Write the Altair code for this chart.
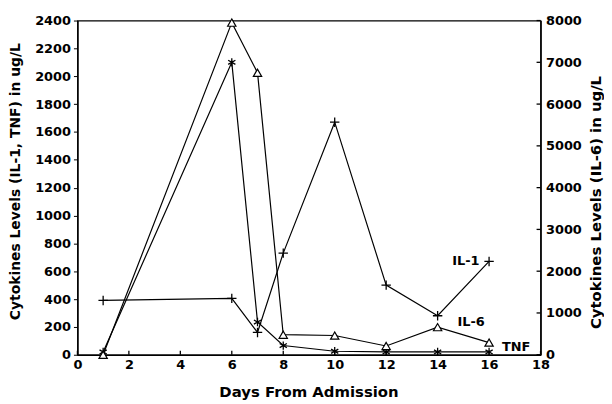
import altair as alt
import pandas as pd

days = [1, 6, 7, 8, 10, 12, 14, 16]
il1 = [390, 405, 160, 730, 1670, 500, 280, 670]
tnf = [20, 2100, 235, 66, 25, 20, 20, 20]
il6 = [0, 7950, 6750, 480, 460, 210, 660, 290]

x_ticks = [0, 2, 4, 6, 8, 10, 12, 14, 16, 18]
left_ticks = list(range(0, 2401, 200))
right_ticks = list(range(0, 8001, 1000))

label_text = ["IL-1", "IL-6", "TNF"]
label_day = [15.1, 15.3, 17.05]
label_val = [670, 235, 57]

FONT = "DejaVu Sans"
W, H = 467, 337

df_il1 = pd.DataFrame({"day": days, "v": il1})
df_tnf = pd.DataFrame({"day": days, "v": tnf})
df_il6 = pd.DataFrame({"day": days, "v": il6})
df_lab = pd.DataFrame({"day": label_day, "v": label_val, "t": label_text})
df_xt = pd.DataFrame({"day": x_ticks})
df_rt = pd.DataFrame({"v": right_ticks})

xscale = alt.Scale(domain=[0, 18], nice=False, zero=False)
xaxis = alt.Axis(values=x_ticks, title="Days From Admission", grid=False, format="d",
                 tickSize=0, labelPadding=4, labelFont=FONT, labelFontSize=13,
                 labelFontWeight="bold", labelColor="black",
                 titleFont=FONT, titleFontSize=15, titleFontWeight="bold", titleColor="black",
                 titleX=233, titleY=37, titleBaseline="middle",
                 domainColor="black", domainWidth=1.5, labelFlush=False)

lscale = alt.Scale(domain=[0, 2400], nice=False)
laxis = alt.Axis(values=left_ticks, title="Cytokines Levels (IL-1, TNF) in ug/L", grid=False,
                 format="d",
                 tickSize=4, tickColor="black", labelPadding=3, labelFont=FONT, labelFontSize=13,
                 labelFontWeight="bold", labelColor="black",
                 titleFont=FONT, titleFontSize=14, titleFontWeight="bold", titleColor="black",
                 titleX=-62, titleY=162, titleBaseline="middle", titleAngle=270,
                 domainColor="black", domainWidth=1.5)

rscale = alt.Scale(domain=[0, 8000], nice=False)
raxis = alt.Axis(values=right_ticks, title="Cytokines Levels (IL-6) in ug/L", grid=False,
                 orient="right", format="d", tickSize=0, labelPadding=5, labelFont=FONT,
                 labelFontSize=13, labelFontWeight="bold", labelColor="black",
                 titleFont=FONT, titleFontSize=15, titleFontWeight="bold", titleColor="black",
                 titleX=55, titleY=183, titleBaseline="middle", titleAngle=270,
                 domainColor="black", domainWidth=1.5)

X = alt.X("day:Q", scale=xscale, axis=xaxis)
YL = alt.Y("v:Q", scale=lscale, axis=laxis)
YR = alt.Y("v:Q", scale=rscale, axis=raxis)

plus = "M-1,0L1,0M0,-1L0,1"
star = "M0,-1L0,1M-0.87,-0.5L0.87,0.5M-0.87,0.5L0.87,-0.5"

def series(df, y, shape, size, fill=None):
    line = alt.Chart(df).mark_line(color="black", strokeWidth=1.2).encode(x=X, y=y)
    if fill is None:
        pts = alt.Chart(df).mark_point(shape=shape, size=size, color="black",
                                       strokeWidth=1.3, opacity=1, filled=False).encode(x=X, y=y)
    else:
        pts = alt.Chart(df).mark_point(shape=shape, size=size, stroke="black", fill=fill,
                                       strokeWidth=1.2, opacity=1, fillOpacity=1,
                                       filled=True).encode(x=X, y=y)
    return [line, pts]

xticks = alt.Chart(df_xt).mark_rule(color="black", strokeWidth=1.3).encode(
    x=X, y=alt.value(H), y2=alt.value(H - 4))

labels = alt.Chart(df_lab).mark_text(font=FONT, fontSize=13, fontWeight="bold",
                                     color="black", align="center", baseline="middle").encode(
    x=X, y=YL, text="t:N")

left = alt.layer(*series(df_il1, YL, plus, 90), *series(df_tnf, YL, star, 70),
                 labels, xticks)

rticks = alt.Chart(df_rt).mark_rule(color="black", strokeWidth=1.3).encode(
    y=YR, x=alt.value(W), x2=alt.value(W - 4))
right = alt.layer(*series(df_il6, YR, "triangle-up", 70, fill="white"), rticks)

chart = alt.layer(left, right).resolve_scale(y="independent").properties(
    width=W, height=H,
    autosize=alt.AutoSizeParams(type="none"),
    padding={"left": 70, "top": 11, "right": 64, "bottom": 45},
    background="white",
).configure_view(stroke="black", strokeWidth=1.2)

chart.save("out.html", embed_options={"renderer": "svg", "actions": False})
